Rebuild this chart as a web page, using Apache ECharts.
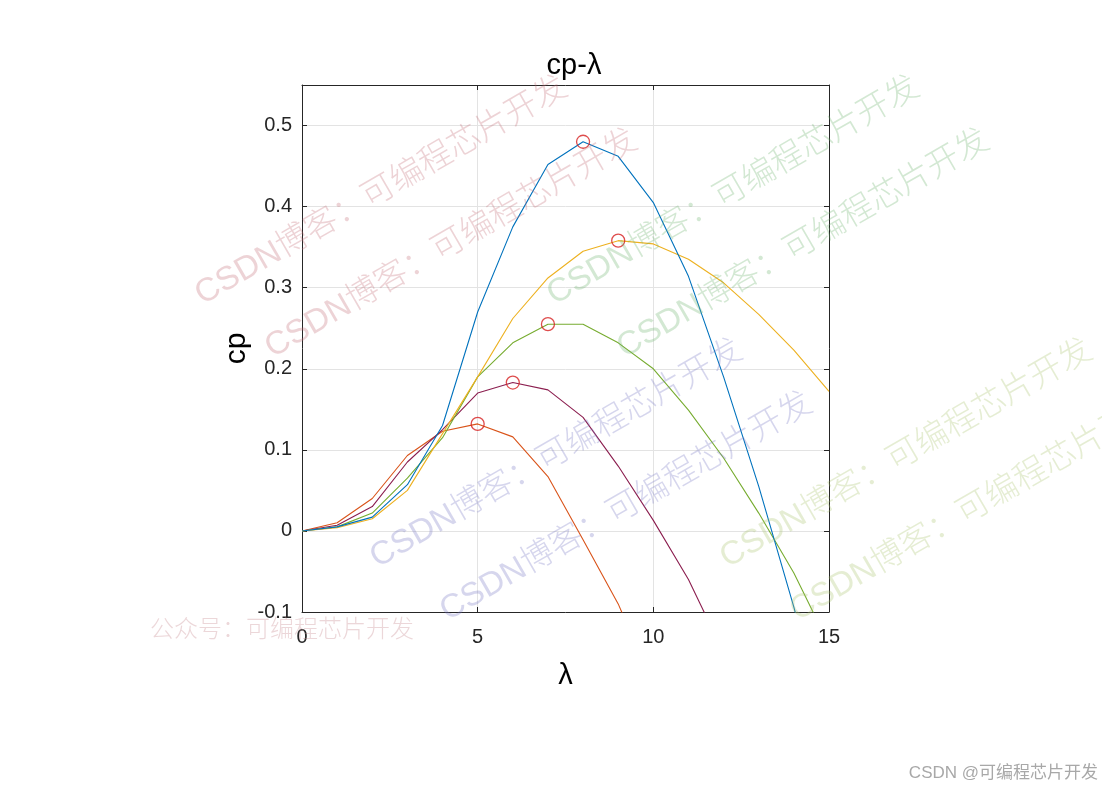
<!DOCTYPE html>
<html><head><meta charset="utf-8">
<script src="https://cdn.jsdelivr.net/npm/echarts@6/dist/echarts.min.js"></script>
<style>html,body{margin:0;padding:0;background:#fff}#c{width:1102px;height:793px}</style>
</head><body><div id="c"></div>
<script>
const lambda = [0,1,2,3,4,5,6,7,8,9,10,11,12,13,14,15];
const cpBlue   = [0,0.005,0.017,0.057,0.13,0.27,0.375,0.452,0.48,0.462,0.405,0.314,0.19,0.055,-0.094,-0.26];
const cpYellow = [0,0.004,0.015,0.05,0.12,0.19,0.262,0.312,0.345,0.358,0.354,0.335,0.306,0.267,0.223,0.172];
const cpGreen  = [0,0.005,0.022,0.065,0.115,0.19,0.232,0.255,0.255,0.232,0.2,0.149,0.09,0.022,-0.052,-0.14];
const cpPurple = [0,0.007,0.03,0.085,0.125,0.17,0.183,0.174,0.14,0.08,0.013,-0.06,-0.15,-0.25,-0.36,-0.48];
const cpOrange = [0,0.01,0.04,0.093,0.123,0.132,0.116,0.067,-0.011,-0.09,-0.19,-0.3,-0.42,-0.55,-0.69,-0.84];
const peakLambda = [8,9,7,6,5];
const peakCp = [0.48,0.358,0.255,0.183,0.132];
const titleText = 'cp-λ';
const xName = 'λ';
const yName = 'cp';
const wmText = 'CSDN博客：可编程芯片开发';

const pair = arr => lambda.map((l,i)=>[l,arr[i]]);
const fontFam = '"Liberation Sans", Arial, sans-serif';
const lineSeries = (arr, color) => ({
  type:'line', data:pair(arr), showSymbol:false, symbol:'none', clip:true,
  lineStyle:{color:color,width:1.1}, itemStyle:{color:color}, z:2, animation:false
});

const wmFont = '300 33px "Liberation Sans", "Noto Sans CJK SC", sans-serif';
const wm = (x,y,color) => ({
  type:'text', x:x, y:y, rotation:Math.PI/6, z:100, silent:true,
  style:{text:wmText, fill:color, font:wmFont, textAlign:'left', textVerticalAlign:'middle'}
});

const chart = echarts.init(document.getElementById('c'), null, {renderer:'canvas'});
const axisLabelFmt = v => String(+v.toFixed(2));
const lineCol = '#262626';
chart.setOption({
  animation:false,
  backgroundColor:'#fff',
  title:{text:titleText, left:569, top:46, textAlign:'center',
    textStyle:{fontFamily:fontFam, fontSize:29, fontWeight:'normal', color:'#000'}},
  grid:{left:302, top:85, width:527, height:527, show:false},
  xAxis:[
    {type:'value', min:0, max:15, interval:5, position:'bottom',
     name:xName, nameLocation:'middle', nameGap:49,
     nameTextStyle:{fontFamily:fontFam, fontSize:29, color:'#000'},
     axisLine:{show:true, onZero:false, lineStyle:{color:lineCol, width:1}},
     axisTick:{show:true, inside:true, length:5, lineStyle:{color:lineCol}},
     axisLabel:{fontFamily:fontFam, fontSize:20, color:lineCol, margin:15, formatter:axisLabelFmt},
     splitLine:{show:true, lineStyle:{color:'#e3e3e3', width:1}}},
    {type:'value', min:0, max:15, interval:5, position:'top',
     axisLine:{show:true, onZero:false, lineStyle:{color:lineCol, width:1}},
     axisTick:{show:true, inside:true, length:5, lineStyle:{color:lineCol}},
     axisLabel:{show:false}, splitLine:{show:false}}
  ],
  yAxis:[
    {type:'value', min:-0.1, max:0.55, interval:0.1, position:'left',
     name:yName, nameLocation:'middle', nameGap:50, nameRotate:90,
     nameTextStyle:{fontFamily:fontFam, fontSize:30, color:'#000'},
     axisLine:{show:true, onZero:false, lineStyle:{color:lineCol, width:1}},
     axisTick:{show:true, inside:true, length:5, lineStyle:{color:lineCol}},
     axisLabel:{fontFamily:fontFam, fontSize:20, color:lineCol, margin:10, showMaxLabel:false, formatter:axisLabelFmt},
     splitLine:{show:true, lineStyle:{color:'#e3e3e3', width:1}}},
    {type:'value', min:-0.1, max:0.55, interval:0.1, position:'right',
     axisLine:{show:true, onZero:false, lineStyle:{color:lineCol, width:1}},
     axisTick:{show:true, inside:true, length:5, lineStyle:{color:lineCol}},
     axisLabel:{show:false}, splitLine:{show:false}}
  ],
  series:[
    lineSeries(cpOrange,'#D95319'),
    lineSeries(cpPurple,'#8B1E4F'),
    lineSeries(cpGreen,'#77AC30'),
    lineSeries(cpYellow,'#EDB120'),
    lineSeries(cpBlue,'#0072BD'),
    {type:'scatter', data:peakLambda.map((l,i)=>[l,peakCp[i]]), symbol:'circle', symbolSize:13,
     itemStyle:{color:'rgba(0,0,0,0)', borderColor:'#D62020', borderWidth:1.3}, z:3, animation:false}
  ],
  graphic:[
    wm(198,297,'rgba(196,110,118,0.3)'),
    wm(268,350,'rgba(196,110,118,0.3)'),
    wm(550,297,'rgba(110,180,110,0.3)'),
    wm(620,350,'rgba(110,180,110,0.3)'),
    wm(373,560,'rgba(120,120,196,0.3)'),
    wm(443,613,'rgba(120,120,196,0.3)'),
    wm(723,560,'rgba(170,196,110,0.3)'),
    wm(793,613,'rgba(170,196,110,0.3)'),
    {type:'text', x:150, y:628, z:100, silent:true,
     style:{text:'公众号：可编程芯片开发', fill:'rgba(200,140,145,0.35)', font:'300 24px "Noto Sans CJK SC", sans-serif', textAlign:'left', textVerticalAlign:'middle'}},
    {type:'text', x:1098, y:773, z:100, silent:true,
     style:{text:'CSDN @可编程芯片开发', fill:'#a8a8a8', font:'17px "Liberation Sans", "Noto Sans CJK SC", sans-serif', textAlign:'right', textVerticalAlign:'middle'}}
  ]
});
</script></body></html>
